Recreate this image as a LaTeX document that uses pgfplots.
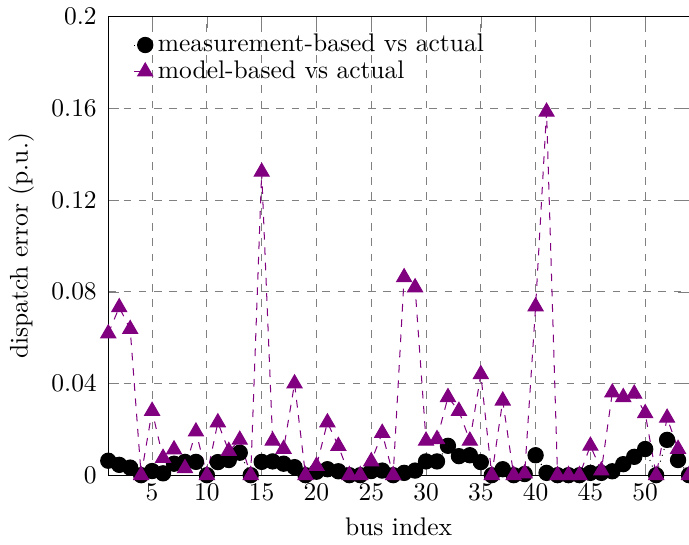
\documentclass[border=0pt]{standalone}
\usepackage{pgfplots}
\pgfplotsset{compat=1.18}
\usepackage{pgfplotstable}
\definecolor{mypurple}{RGB}{128,0,128}

% bus, measurement-based error, model-based error
\pgfplotstableread{
bus meas model
1  0.0063 0.0618
2  0.0045 0.0732
3  0.0033 0.0637
4  0      0
5  0.0018 0.0280
6  0.0008 0.0075
7  0.0050 0.0112
8  0.0058 0.0030
9  0.0058 0.0190
10 0      0
11 0.0057 0.0230
12 0.0066 0.0105
13 0.0098 0.0154
14 0      0
15 0.0058 0.1323
16 0.0060 0.0150
17 0.0050 0.0114
18 0.0035 0.0400
19 0      0
20 0.0015 0.0040
21 0.0026 0.0230
22 0.0017 0.0127
23 0      0
24 0      0
25 0.0018 0.0060
26 0.0020 0.0184
27 0      0
28 0.0010 0.0863
29 0.0020 0.0819
30 0.0060 0.0150
31 0.0060 0.0157
32 0.0128 0.0340
33 0.0083 0.0280
34 0.0087 0.0150
35 0.0057 0.0440
36 0      0
37 0.0026 0.0325
38 0      0
39 0.0005 0.0007
40 0.0087 0.0736
41 0.0010 0.1585
42 0      0
43 0      0
44 0      0
45 0.0010 0.0128
46 0.0010 0.0020
47 0.0017 0.0360
48 0.0048 0.0340
49 0.0080 0.0355
50 0.0114 0.0270
51 0      0
52 0.0154 0.0250
53 0.0066 0.0114
54 0      0
}\errors

\begin{document}
\begin{tikzpicture}[trim axis right]
\begin{axis}[
  scale only axis,
  width=228pt, height=180pt,
  xmin=1, xmax=54,
  ymin=0, ymax=0.2,
  xtick={5,10,...,50},
  ytick={0,0.04,0.08,0.12,0.16,0.2},
  scaled y ticks=false,
  yticklabel style={/pgf/number format/fixed, /pgf/number format/precision=2, xshift=-1pt},
  grid=major,
  major grid style={dashed, gray},
  xlabel={bus index},
  ylabel={dispatch error (p.u.)},
  legend style={at={(0.03,0.985)}, anchor=north west, draw=none, fill=none, row sep=-2pt},
  legend cell align=left,
  legend image code/.code={
    \draw[#1, mark=none] (0.1cm,0cm) -- (0.25cm,0cm);
    \draw[#1, only marks] plot coordinates {(0.25cm,0cm)};
  },
]
\addplot[black, dotted, mark=*, mark size=3pt, mark options={solid}]
  table[x=bus, y=meas] {\errors};
\addlegendentry{measurement-based vs actual}
\addplot[mypurple, dashed, mark=triangle*, mark size=3.4pt, mark options={solid}]
  table[x=bus, y=model] {\errors};
\addlegendentry{model-based vs actual}
\end{axis}
\end{tikzpicture}
\end{document}
